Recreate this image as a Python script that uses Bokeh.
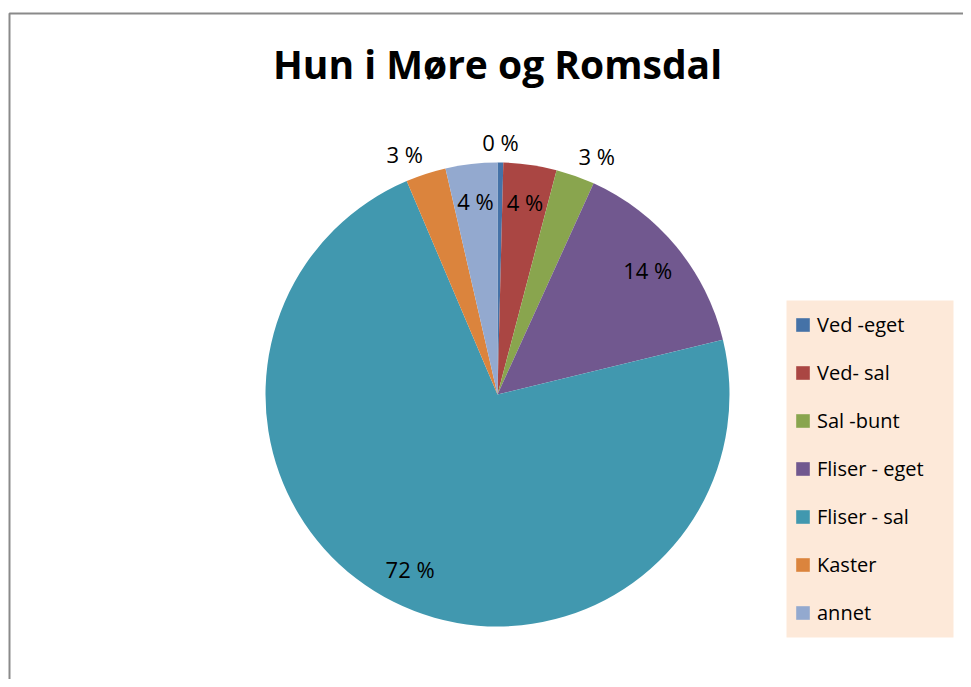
import math
from bokeh.plotting import figure
from bokeh.models import Range1d, Legend, LegendItem, ColumnDataSource
from bokeh.core.properties import value
from bokeh.embed import file_html
from bokeh.resources import INLINE

# ---- data ----
categories = ["Ved -eget", "Ved- sal", "Sal -bunt", "Fliser - eget", "Fliser - sal", "Kaster", "annet"]
shares = [0.4, 3.7, 2.7, 14.4, 72.4, 2.8, 3.6]
colors = ["#4572A7", "#AA4643", "#89A54E", "#71588F", "#4198AF", "#DB843D", "#93A9CF"]
label_place = ["outside", "inside", "outside", "inside", "inside", "outside", "inside"]
title_text = "Hun i Møre og Romsdal"

W, H = 963, 679
FONT = "Open Sans"

p = figure(width=W, height=H, output_backend="svg", toolbar_location=None,
           x_range=Range1d(0, W), y_range=Range1d(0, H), min_border=0,
           background_fill_color="white", border_fill_color="white")
p.axis.visible = False
p.grid.visible = False
p.outline_line_color = None

# outer chart border (top + left visible)
p.line(x=[9, 9, W], y=[0, 666, 666], line_color="#8a8a8a", line_width=2)

cx, cy, R = 497, 285, 232
total = sum(shares)
starts, ends, mids = [], [], []
acc = 0.0
for s in shares:
    a0 = acc / total
    acc += s
    a1 = acc / total
    starts.append(math.pi / 2 - a0 * 2 * math.pi)
    ends.append(math.pi / 2 - a1 * 2 * math.pi)
    mids.append(math.pi / 2 - (a0 + a1) / 2 * 2 * math.pi)

src = ColumnDataSource(dict(x=[cx] * len(shares), y=[cy] * len(shares),
                            start=starts, end=ends, color=colors, cat=categories))
wr = p.wedge(x="x", y="y", radius=R, start_angle="start", end_angle="end",
             direction="clock", fill_color="color", line_color=None, source=src)

# data labels
groups = {"left": ([], [], []), "right": ([], [], []), "center": ([], [], [])}
for s, m, pl in zip(shares, mids, label_place):
    txt = f"{round(s / total * 100):.0f} %"
    if pl == "inside":
        r = R * 0.84
        g = "center"
        x, y = cx + r * math.cos(m), cy + r * math.sin(m)
    else:
        r = R * 1.04
        c = math.cos(m)
        g = "left" if c > 0.1 else ("right" if c < -0.1 else "center")
        x, y = cx + r * math.cos(m), cy + r * math.sin(m) + 11
    groups[g][0].append(x)
    groups[g][1].append(y)
    groups[g][2].append(txt)
for align, (gx, gy, gt) in groups.items():
    if gx:
        p.text(x=gx, y=gy, text=gt, text_align=align, text_baseline="middle",
               text_font=value(FONT), text_font_size="22px", text_color="black")

# title
p.text(x=[497], y=[616], text=[title_text], text_align="center", text_baseline="middle",
       text_font=value(FONT), text_font_size="39px", text_font_style="bold", text_color="black")

# legend panel background
p.quad(left=[786], right=[953], bottom=[42], top=[379], fill_color="#fde9d9", line_color=None)

# legend
items = [LegendItem(label=name, renderers=[wr], index=i) for i, name in enumerate(categories)]
legend = Legend(items=items, location=(794, 53), orientation="vertical",
                background_fill_alpha=0.0, border_line_color=None,
                glyph_width=17, glyph_height=17,
                label_text_font=FONT, label_text_font_size="20px", label_height=28,
                label_standoff=6, spacing=20, padding=0, margin=0)
legend.label_text_color = "black"
p.add_layout(legend)

open("out.html", "w").write(file_html(p, INLINE))
